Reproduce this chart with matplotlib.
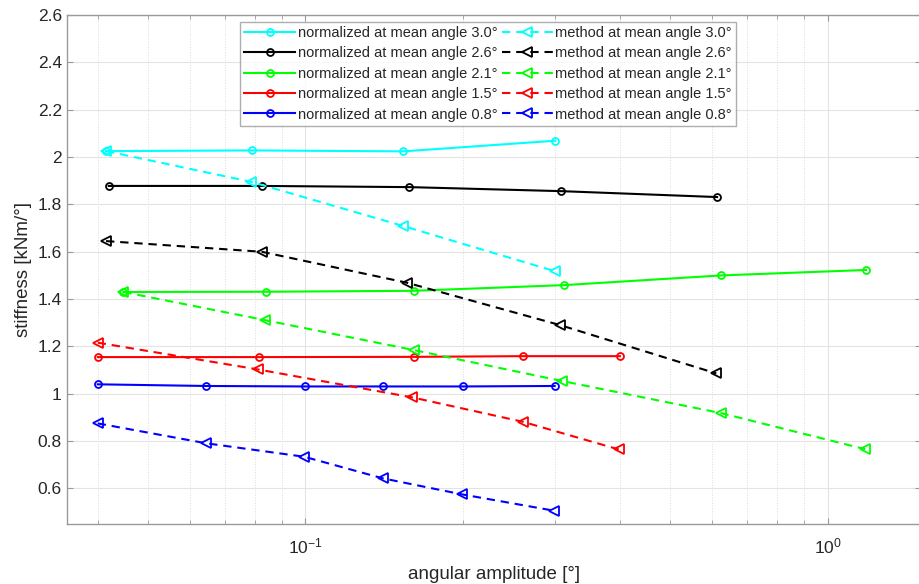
import numpy as np
import matplotlib
matplotlib.use("Agg")
import matplotlib.pyplot as plt
from matplotlib.ticker import FixedLocator, FuncFormatter, LogLocator, NullFormatter

plt.rcParams['font.family'] = ['Liberation Sans', 'DejaVu Sans']

# mean angles, plotting order and colours
angles = ['3.0', '2.6', '2.1', '1.5', '0.8']
colors = ['#00FFFF', '#000000', '#00FF00', '#FF0000', '#0000FF']

# normalized curves (amplitude, stiffness)
norm_x = [
    [0.0415, 0.079, 0.154, 0.301],
    [0.042, 0.0824, 0.158, 0.3085, 0.614],
    [0.0448, 0.084, 0.161, 0.3126, 0.626, 1.184],
    [0.040, 0.0815, 0.161, 0.2615, 0.40],
    [0.040, 0.0645, 0.10, 0.141, 0.20, 0.30],
]
norm_y = [
    [2.025, 2.028, 2.024, 2.069],
    [1.878, 1.878, 1.873, 1.856, 1.831],
    [1.430, 1.431, 1.435, 1.459, 1.500, 1.523],
    [1.155, 1.155, 1.156, 1.159, 1.159],
    [1.040, 1.033, 1.031, 1.031, 1.031, 1.033],
]

# method curves
meth_x = [
    [0.0415, 0.0785, 0.1537, 0.300],
    [0.0415, 0.0824, 0.1565, 0.3075, 0.612],
    [0.0448, 0.0837, 0.161, 0.310, 0.626, 1.180],
    [0.040, 0.081, 0.160, 0.2605, 0.398],
    [0.040, 0.0645, 0.0995, 0.1405, 0.1995, 0.2995],
]
meth_y = [
    [2.025, 1.896, 1.709, 1.518],
    [1.645, 1.600, 1.469, 1.290, 1.086],
    [1.430, 1.311, 1.185, 1.054, 0.918, 0.766],
    [1.216, 1.103, 0.985, 0.882, 0.765],
    [0.875, 0.791, 0.734, 0.643, 0.575, 0.506],
]

fig = plt.figure(figsize=(9.19, 5.84), dpi=100)
ax = fig.add_axes([66.7 / 919, 1 - 524 / 584, (921 - 66.7) / 919, (524 - 15) / 584])

handles = []
for i in range(len(angles)):
    h, = ax.plot(norm_x[i], norm_y[i], '-', color=colors[i], lw=1.5, marker='o',
                 markersize=5, markerfacecolor='none', markeredgewidth=1.3,
                 label='normalized at mean angle ' + angles[i] + '°')
    handles.append(h)
for i in range(len(angles)):
    h, = ax.plot(meth_x[i], meth_y[i], color=colors[i], lw=1.5, ls=(0, (4, 2.8)),
                 marker='<', markersize=7, markerfacecolor='none', markeredgewidth=1.3,
                 label='method at mean angle ' + angles[i] + '°')
    handles.append(h)

ax.set_xscale('log')
ax.set_xlim(0.03489, 1.509)
ax.set_ylim(0.45, 2.6)
ax.yaxis.set_major_locator(FixedLocator(np.arange(0.6, 2.61, 0.2)))
ax.yaxis.set_major_formatter(FuncFormatter(lambda v, p: '%g' % round(v, 2)))
ax.xaxis.set_major_locator(LogLocator(base=10))
ax.xaxis.set_minor_locator(LogLocator(base=10, subs=np.arange(2, 10)))
ax.xaxis.set_minor_formatter(NullFormatter())

ax.grid(True, which='major', color='#e3e3e3', lw=0.8, ls='-')
ax.grid(True, which='minor', axis='x', color='#dcdcdc', lw=0.7, ls=':')
ax.set_axisbelow(True)

for s in ax.spines.values():
    s.set_color('#9a9a9a')
    s.set_linewidth(1.0)
ax.tick_params(which='both', direction='in', top=True, right=True, colors='#9a9a9a',
               labelcolor='#262626', labelsize=12.5)
ax.tick_params(which='major', length=4.5)
ax.tick_params(axis='x', which='major', pad=9)
ax.tick_params(which='minor', length=3)

ax.set_xlabel('angular amplitude [°]', fontsize=13.5, color='#262626', labelpad=7)
ax.set_ylabel('stiffness [kNm/°]', fontsize=13.5, color='#262626', labelpad=4)

leg = ax.legend(handles=handles, ncol=2, loc='upper left',
                bbox_to_anchor=((240 - 66.7) / (921 - 66.7), 1 - (21.5 - 15) / 509),
                fontsize=10.5, frameon=True, fancybox=False, handlelength=3.5,
                handletextpad=0.15, columnspacing=0.3, labelspacing=0.44,
                borderpad=0.3, borderaxespad=0)
leg.get_frame().set_edgecolor('#9a9a9a')
leg.get_frame().set_linewidth(1.0)
for t in leg.get_texts():
    t.set_color('#262626')

fig.savefig('out.png', dpi=100)
